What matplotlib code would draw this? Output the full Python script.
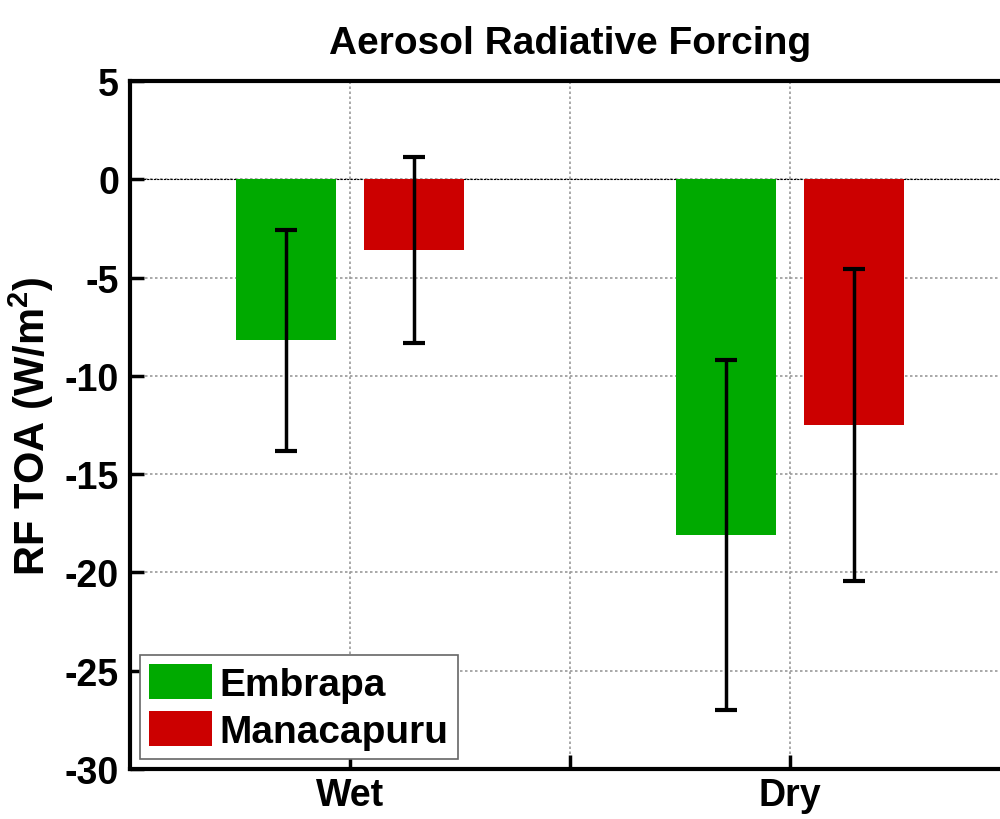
import matplotlib
matplotlib.use("Agg")
import matplotlib.pyplot as plt
import numpy as np

plt.rcParams['font.family'] = ['Liberation Sans', 'DejaVu Sans']
plt.rcParams['font.weight'] = 'bold'
plt.rcParams['axes.unicode_minus'] = False
plt.rcParams['mathtext.fontset'] = 'custom'
plt.rcParams['mathtext.bf'] = 'Liberation Sans:bold'
plt.rcParams['mathtext.rm'] = 'Liberation Sans:bold'

seasons = ["Wet", "Dry"]
sites = ["Embrapa", "Manacapuru"]
embrapa_rf = [-8.2, -18.1]
embrapa_err = [5.6, 8.9]
manacapuru_rf = [-3.6, -12.5]
manacapuru_err = [4.75, 7.95]
colors = ["#00aa00", "#cc0000"]

fig = plt.figure(figsize=(10, 8.2), dpi=100)
ax = fig.add_axes([0.13, 0.061, 0.88, 0.839])

x = np.array([1.0, 2.0])
offset = 0.145
width = 0.228

ax.bar(x - offset, embrapa_rf, width, color=colors[0], label=sites[0], zorder=2)
ax.bar(x + offset, manacapuru_rf, width, color=colors[1], label=sites[1], zorder=2)
ax.errorbar(x - offset, embrapa_rf, yerr=embrapa_err, fmt='none', ecolor='black',
            elinewidth=2.5, capsize=8, capthick=3, zorder=3)
ax.errorbar(x + offset, manacapuru_rf, yerr=manacapuru_err, fmt='none', ecolor='black',
            elinewidth=2.5, capsize=8, capthick=3, zorder=3)

ax.axhline(0, color='black', lw=0.8, ls=(0, (2, 1)), zorder=1.5)

ax.set_xlim(0.5, 2.5)
ax.set_ylim(-30, 5)
ax.set_xticks([1.0, 1.5, 2.0])
ax.set_xticklabels(seasons[:1] + [""] + seasons[1:])
ax.set_yticks(np.arange(-30, 6, 5))
ax.tick_params(direction='in', length=10, width=2.5, labelsize=27, pad=8)
ax.tick_params(axis='x', labelsize=27, pad=6)
for lab in ax.get_xticklabels() + ax.get_yticklabels():
    lab.set_fontweight('bold')

ax.grid(True, color='#999999', ls=(0, (1.5, 1.5)), lw=1.2, zorder=0)
ax.set_axisbelow(True)

for side in ['left', 'bottom', 'top']:
    ax.spines[side].set_linewidth(3)
ax.spines['right'].set_visible(False)

ax.set_title("Aerosol Radiative Forcing", fontsize=28, fontweight='bold', pad=20)
ax.set_ylabel("RF TOA (W/m$^{\\mathbf{2}}$)", fontsize=30, fontweight='bold', labelpad=6)

leg = ax.legend(loc='lower left', fontsize=28, frameon=True, fancybox=False,
                edgecolor='#666666', framealpha=1, handlelength=1.6, handleheight=1.0,
                borderaxespad=0.25, handletextpad=0.2, borderpad=0.25, labelspacing=0.2)
leg.get_frame().set_linewidth(1.2)
for t in leg.get_texts():
    t.set_fontweight('bold')

fig.savefig("out.png", dpi=100, facecolor='white')
